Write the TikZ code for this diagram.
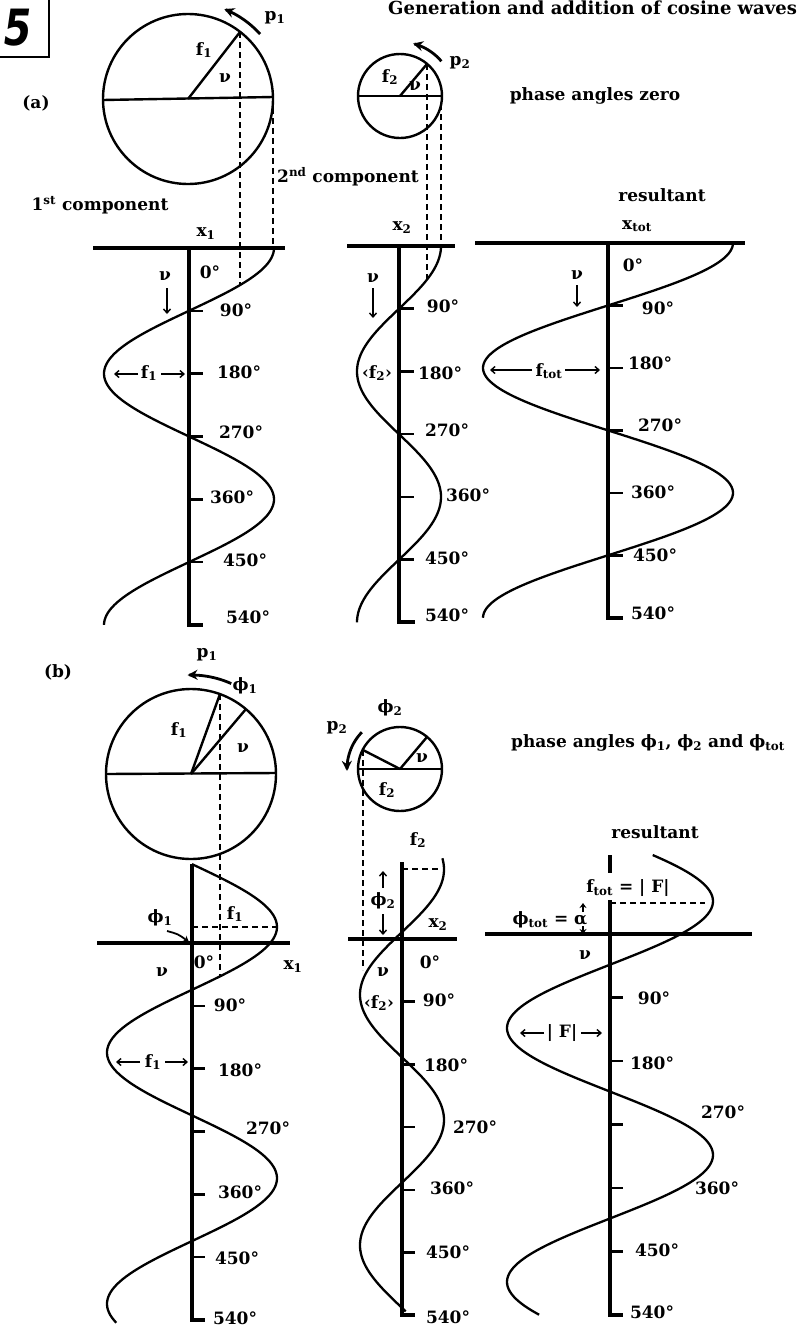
\documentclass[tikz,border=0pt]{standalone}
\usepackage{fontspec}
\setmainfont{DejaVu Serif}
\newfontfamily\fivefont{DejaVu Sans}[FakeSlant=0.18]
\usetikzlibrary{arrows.meta}
\begin{document}
\begin{tikzpicture}[x=1pt,y=-1pt,
  lbl/.style={font=\bfseries\fontsize{17}{19}\selectfont, inner sep=0pt},
  big/.style={font=\bfseries\fontsize{18}{20}\selectfont, inner sep=0pt},
  axisline/.style={line width=3.2pt},
  wave/.style={line width=2.3pt},
  circ/.style={line width=2.4pt},
  dsh/.style={line width=2.2pt, dash pattern=on 6pt off 4pt},
  tck/.style={line width=2.6pt},
  sarr/.style={line width=1.4pt, -{Straight Barb[length=4pt,width=7pt]}},
  parr/.style={line width=2.8pt, -{Stealth[length=10pt,width=10pt]}},
]
\useasboundingbox (0,0) rectangle (802,1344);

% ---------- number box and title ----------
\draw[line width=2.8pt] (-3,57) -- (49,57) -- (49,-3);
\node[font=\fivefont\bfseries\fontsize{50}{50}\selectfont, inner sep=0pt] (five) at (15,28) {\scalebox{0.8}[1]{5}};
\node[big, anchor=base west] (title) at (388,14) {Generation and addition of cosine waves};

% ================= (a) =================
\node[lbl] (la) at (36,103) {(a)};
% circle 1
\coordinate (ca1) at (188,99);
\coordinate (ra1) at (240,32);
\draw[circ] (ca1) circle[radius=85pt];
\draw[circ] (103,100) -- (273,97);
\draw[circ] (ca1) -- (ra1);
\draw[parr] plot[domain=42:68, samples=20, smooth] ({188+97*cos(\x)},{99-97*sin(\x)});
\node[lbl] (pa1) at (275,18) {p\textsubscript{1}};
\node[lbl] (fa1) at (204,50) {f\textsubscript{1}};
\node[lbl] (nua1) at (225,78) {ν};
% circle 2
\coordinate (ca2) at (400,96);
\coordinate (ra2) at (427,64);
\draw[circ] (ca2) circle[radius=42pt];
\draw[circ] (358,96) -- (442,96);
\draw[circ] (ca2) -- (ra2);
\draw[parr] plot[domain=40:76, samples=20, smooth] ({400+54*cos(\x)},{96-54*sin(\x)});
\node[lbl] (pa2) at (460,63) {p\textsubscript{2}};
\node[lbl] (fa2) at (390,77) {f\textsubscript{2}};
\node[lbl] (nua2) at (415,86) {ν};
\node[lbl] (phz) at (595,96) {phase angles zero};
\node[lbl] (comp1) at (100,205) {1\textsuperscript{st} component};
\node[lbl] (comp2) at (348,177) {2\textsuperscript{nd} component};

% dashed projections
\draw[dsh] (ra1) -- (240,284);
\draw[dsh] (273,108) -- (273,248);
\draw[dsh] (ra2) -- (427,281);
\draw[dsh] (441,104) -- (441,246);

% axis 1 (a)
\draw[axisline] (93,248) -- (285,248);
\draw[axisline] (189,248) -- (189,625) -- (203,625);
\foreach \k in {1,...,5} \draw[tck] (189,{248+62.8*\k}) -- ++(14,0);
\draw[wave] plot[domain=0:540, samples=150, smooth] ({189+85*cos(\x)},{248+0.698*\x});
\node[lbl] (xa1) at (206,234) {x\textsubscript{1}};
\node[lbl] (nub1) at (165,276) {ν};
\draw[sarr] (167,288) -- (167,314);
\node[lbl] (a1d0) at (210,272) {0°};
\node[lbl] (a1d90) at (236,310) {90°};
\node[lbl] (a1d180) at (239,372) {180°};
\node[lbl] (a1d270) at (241,432) {270°};
\node[lbl] (a1d360) at (232,497) {360°};
\node[lbl] (a1d450) at (245,560) {450°};
\node[lbl] (a1d540) at (248,617) {540°};
\node[lbl] (fa1b) at (149,373) {f\textsubscript{1}};
\draw[sarr] (138,374) -- (114,374);
\draw[sarr] (161,374) -- (185,374);

% axis 2 (a)
\draw[axisline] (347,246) -- (455,246);
\draw[axisline] (399,246) -- (399,622) -- (415,622);
\foreach \k in {1,...,5} \draw[tck] (399,{246+62.7*\k}) -- ++(15,0);
\draw[wave] plot[domain=0:540, samples=150, smooth] ({399+42*cos(\x)},{246+0.697*\x});
\node[lbl] (xa2) at (402,228) {x\textsubscript{2}};
\node[lbl] (nub2) at (373,278) {ν};
\draw[sarr] (373,288) -- (373,318);
\node[lbl] (fa2b) at (377,373) {‹f\textsubscript{2}›};
\node[lbl] (a2d90) at (443,306) {90°};
\node[lbl] (a2d180) at (440,373) {180°};
\node[lbl] (a2d270) at (447,430) {270°};
\node[lbl] (a2d360) at (468,495) {360°};
\node[lbl] (a2d450) at (447,558) {450°};
\node[lbl] (a2d540) at (447,615) {540°};

% axis 3 (a)
\draw[axisline] (475,243) -- (745,243);
\draw[axisline] (608,243) -- (608,618) -- (623,618);
\foreach \k in {1,...,5} \draw[tck] (608,{243+62.5*\k}) -- ++(15,0);
\draw[wave] plot[domain=0:540, samples=150, smooth] ({608+125*cos(\x)},{243+0.694*\x});
\node[lbl] (resa) at (662,195) {resultant};
\node[lbl] (xtot) at (637,226) {x\textsubscript{tot}};
\node[lbl] (nub3) at (577,275) {ν};
\draw[sarr] (577,285) -- (577,307);
\node[lbl] (a3d0) at (633,265) {0°};
\node[lbl] (a3d90) at (658,308) {90°};
\node[lbl] (a3d180) at (650,363) {180°};
\node[lbl] (a3d270) at (660,425) {270°};
\node[lbl] (a3d360) at (653,492) {360°};
\node[lbl] (a3d450) at (655,555) {450°};
\node[lbl] (a3d540) at (653,613) {540°};
\node[lbl] (ftota) at (549,371) {f\textsubscript{tot}};
\draw[sarr] (532,370) -- (490,370);
\draw[sarr] (565,370) -- (600,370);

% ================= (b) =================
\node[lbl] (lb) at (58,672) {(b)};
% circle 1
\coordinate (cb1) at (191,774);
\coordinate (rb1f) at (220,694);
\coordinate (rb1n) at (246,709);
\draw[circ] (cb1) circle[radius=85pt];
\draw[circ] (106,774) -- (276,773);
\draw[circ] (cb1) -- (rb1f);
\draw[circ] (cb1) -- (rb1n);
\draw[parr] plot[domain=66:92, samples=20, smooth] ({191+99*cos(\x)},{774-99*sin(\x)});
\node[lbl] (pb1) at (207,655) {p\textsubscript{1}};
\node[lbl] (phb1) at (245,686) {ϕ\textsubscript{1}};
\node[lbl] (fb1) at (179,730) {f\textsubscript{1}};
\node[lbl] (nuc1) at (243,748) {ν};
% circle 2
\coordinate (cb2) at (400,769);
\coordinate (rb2n) at (427,737);
\coordinate (rb2f) at (363,750);
\draw[circ] (cb2) circle[radius=42pt];
\draw[circ] (358,769) -- (442,769);
\draw[circ] (cb2) -- (rb2n);
\draw[circ] (cb2) -- (rb2f);
\draw[parr] plot[domain=136:182, samples=20, smooth] ({400+53*cos(\x)},{769-53*sin(\x)});
\node[lbl] (phb2) at (390,708) {ϕ\textsubscript{2}};
\node[lbl] (pb2) at (337,728) {p\textsubscript{2}};
\node[lbl] (fb2) at (387,790) {f\textsubscript{2}};
\node[lbl] (nuc2) at (422,758) {ν};
\node[lbl] (phb) at (648,743) {phase angles ϕ\textsubscript{1}, ϕ\textsubscript{2} and ϕ\textsubscript{tot}};

% axis 1 (b)
\draw[dsh] (rb1f) -- (220,976);
\draw[dsh] (192,927) -- (276,927);
\draw[axisline] (97,943) -- (290,943);
\draw[axisline] (192,864) -- (192,1320) -- (205,1320);
\foreach \k in {1,...,5} \draw[tck] (192,{943+62.8*\k}) -- ++(13,0);
\draw[wave] plot[domain=-113:544, samples=180, smooth] ({192+85*cos(\x+23)},{943+0.698*\x});
\node[lbl] (fb1b) at (235,914) {f\textsubscript{1}};
\node[lbl] (phb1b) at (160,918) {ϕ\textsubscript{1}};
\draw[line width=1.8pt, -{Stealth[length=6pt,width=7pt]}] (167,931) .. controls (178,934) .. (189,942);
\node[lbl] (b1d0) at (204,962) {0°};
\node[lbl] (nud1) at (162,972) {ν};
\node[lbl] (xb1) at (293,967) {x\textsubscript{1}};
\node[lbl] (b1d90) at (230,1005) {90°};
\node[lbl] (b1d180) at (240,1070) {180°};
\node[lbl] (b1d270) at (268,1128) {270°};
\node[lbl] (b1d360) at (240,1192) {360°};
\node[lbl] (b1d450) at (237,1258) {450°};
\node[lbl] (b1d540) at (235,1318) {540°};
\node[lbl] (fb1c) at (153,1062) {f\textsubscript{1}};
\draw[sarr] (140,1062) -- (116,1062);
\draw[sarr] (165,1062) -- (188,1062);

% axis 2 (b)
\draw[dsh] (rb2f) -- (363,970);
\draw[dsh] (402,869) -- (441,869);
\draw[axisline] (348,939) -- (457,939);
\draw[axisline] (402,862) -- (402,1315) -- (415,1315);
\foreach \k in {1,...,5} \draw[tck] (402,{939+62.7*\k}) -- ++(13,0);
\draw[wave] plot[domain=-116:535, samples=180, smooth] ({402+42*cos(\x+100)},{939+0.696*\x});
\node[lbl] (fb2b) at (418,840) {f\textsubscript{2}};
\node[lbl] (phb2b) at (383,901) {ϕ\textsubscript{2}};
\draw[sarr] (383,888) -- (383,871);
\draw[sarr] (383,914) -- (383,935);
\node[lbl] (xb2) at (438,925) {x\textsubscript{2}};
\node[lbl] (b2d0) at (430,962) {0°};
\node[lbl] (nud2) at (383,972) {ν};
\node[lbl] (fb2c) at (379,1003) {‹f\textsubscript{2}›};
\node[lbl] (b2d90) at (439,1000) {90°};
\node[lbl] (b2d180) at (446,1065) {180°};
\node[lbl] (b2d270) at (475,1127) {270°};
\node[lbl] (b2d360) at (452,1188) {360°};
\node[lbl] (b2d450) at (448,1252) {450°};
\node[lbl] (b2d540) at (448,1317) {540°};

% axis 3 (b)
\draw[dsh] (610,903) -- (705,903);
\draw[axisline] (485,934) -- (752,934);
\draw[axisline] (610,855) -- (610,873);
\draw[axisline] (610,900) -- (610,1315) -- (623,1315);
\foreach \k in {1,...,5} \draw[tck] (610,{934+63.5*\k}) -- ++(13,0);
\draw[wave] plot[domain=-112:540, samples=180, smooth] ({610+103*cos(\x+46.5)},{934+0.705*\x});
\node[lbl] (resb) at (655,832) {resultant};
\node[lbl] (ftotb) at (628,888) {f\textsubscript{tot} = | F|};
\node[lbl] (phtot) at (550,920) {ϕ\textsubscript{tot} = α};
\draw[-{Stealth[length=5pt,width=7pt]}, line width=1.2pt] (583,912) -- (583,903);
\draw[-{Stealth[length=5pt,width=7pt]}, line width=1.2pt] (583,926) -- (583,934);
\node[lbl] (nud3) at (585,955) {ν};
\node[lbl] (b3d90) at (654,998) {90°};
\node[lbl] (b3d180) at (652,1063) {180°};
\node[lbl] (b3d270) at (723,1112) {270°};
\node[lbl] (b3d360) at (717,1188) {360°};
\node[lbl] (b3d450) at (657,1250) {450°};
\node[lbl] (b3d540) at (652,1312) {540°};
\node[lbl] (absF) at (562,1033) {| F|};
\draw[sarr] (544,1033) -- (520,1033);
\draw[sarr] (581,1033) -- (602,1033);
\end{tikzpicture}
\end{document}
